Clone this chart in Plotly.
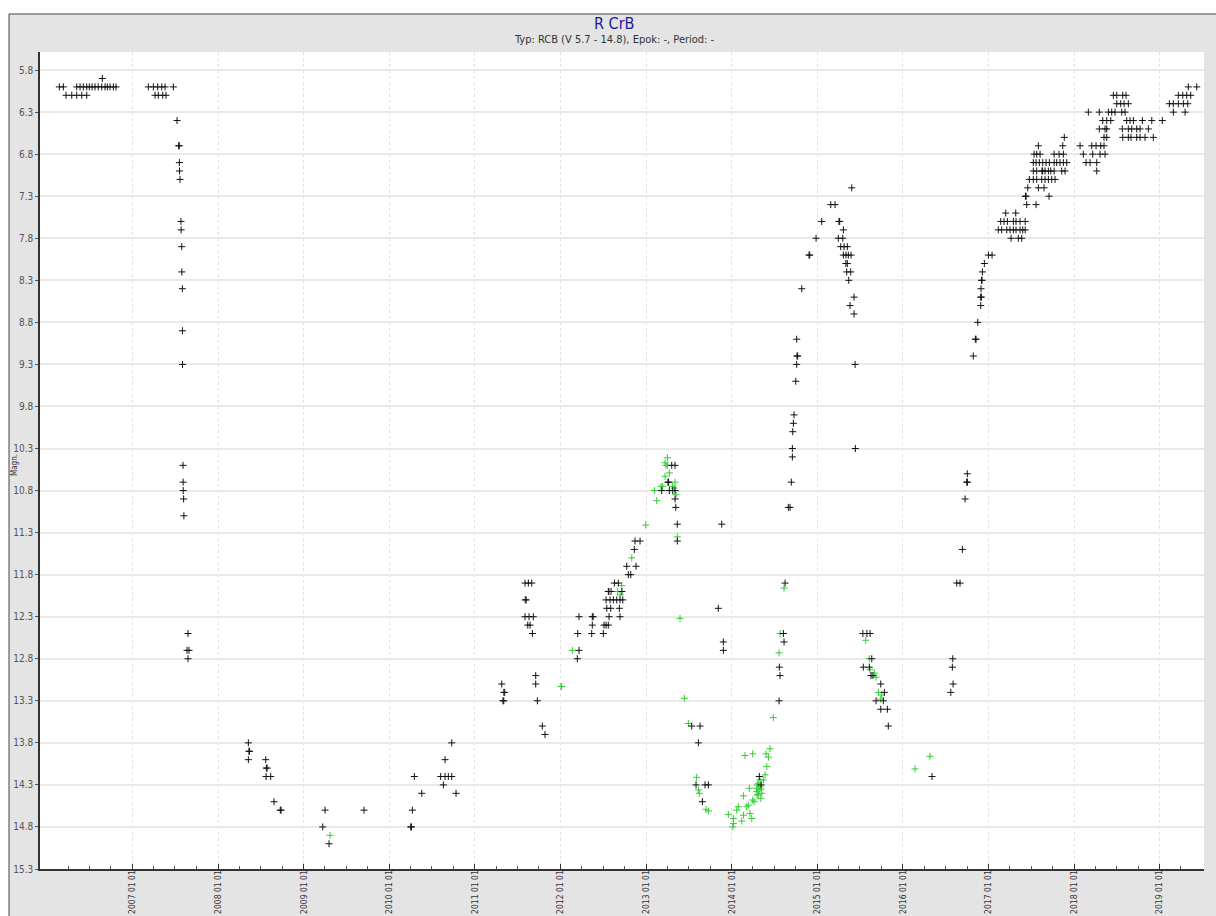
import numpy as np
import pandas as pd
import plotly.graph_objects as go

# ---------------- data (decimal year, magnitude) ----------------
black_year = [
    2006.145, 2006.192, 2006.348, 2006.387, 2006.425, 2006.465, 2006.495, 2006.527, 2006.562, 2006.600,
    2006.640, 2006.679, 2006.706, 2006.737, 2006.776, 2006.807,
    2006.223, 2006.290, 2006.348, 2006.407, 2006.465, 2006.647,
    2007.185, 2007.243, 2007.294, 2007.341, 2007.380, 2007.477,
    2007.263, 2007.301, 2007.353, 2007.391,
    2007.520, 2007.540, 2007.546, 2007.547, 2007.549, 2007.555,
    2007.566, 2007.568, 2007.575, 2007.576, 2007.582, 2007.583, 2007.584,
    2007.590, 2007.591, 2007.592, 2007.597, 2007.600,
    2007.648, 2007.637, 2007.660, 2007.648,
    2008.353, 2008.360, 2008.367, 2008.353, 2008.556, 2008.563, 2008.572, 2008.560, 2008.614, 2008.653,
    2008.726, 2008.735,
    2009.222, 2009.249, 2009.296, 2009.704,
    2010.250, 2010.258, 2010.269, 2010.292, 2010.379, 2010.600, 2010.651, 2010.689, 2010.729, 2010.631,
    2010.651, 2010.729, 2010.779,
    2011.313, 2011.338, 2011.348, 2011.327, 2011.337, 2011.710, 2011.710, 2011.729, 2011.787, 2011.819,
    2011.585, 2011.624, 2011.664, 2011.588, 2011.598, 2011.585, 2011.632, 2011.682, 2011.617, 2011.644,
    2011.671,
    2012.216, 2012.196, 2012.216, 2012.201, 2012.371, 2012.381, 2012.371, 2012.364, 2012.508, 2012.532,
    2012.558, 2012.500, 2012.567, 2012.695, 2012.540, 2012.586, 2012.687,
    2012.532, 2012.578, 2012.617, 2012.657, 2012.695, 2012.727,
    2012.558, 2012.565, 2012.590, 2012.717,
    2012.629, 2012.675, 2012.773, 2012.882, 2012.792, 2012.820,
    2012.870, 2012.929, 2012.862,
    2013.299, 2013.338, 2013.255, 2013.263, 2013.182, 2013.271, 2013.311, 2013.338, 2013.338, 2013.346,
    2013.364, 2013.364,
    2013.883, 2013.843, 2013.902, 2013.902,
    2013.533, 2013.630, 2013.610, 2013.583, 2013.688, 2013.727, 2013.657,
    2014.322, 2014.343,
    2014.553, 2014.564, 2014.556, 2014.611, 2014.603, 2014.623, 2014.661, 2014.681, 2014.696, 2014.708,
    2014.708, 2014.713, 2014.720, 2014.728, 2014.748, 2014.759, 2014.762, 2014.770, 2014.759, 2014.818,
    2014.903, 2014.911, 2014.985,
    2015.051, 2015.157, 2015.207, 2015.253, 2015.261, 2015.304, 2015.245, 2015.297, 2015.273, 2015.312,
    2015.350, 2015.304, 2015.335, 2015.362, 2015.394, 2015.333, 2015.350, 2015.343, 2015.390, 2015.367,
    2015.429, 2015.382, 2015.429, 2015.441, 2015.444, 2015.402,
    2015.532, 2015.579, 2015.616, 2015.636, 2015.537, 2015.607, 2015.627, 2015.650, 2015.741, 2015.783,
    2015.686, 2015.771, 2015.741, 2015.818, 2015.829,
    2016.340, 2016.582, 2016.577, 2016.586, 2016.559, 2016.629, 2016.667, 2016.694, 2016.726, 2016.745,
    2016.753, 2016.752, 2016.822, 2016.846, 2016.854, 2016.874, 2016.909, 2016.908, 2016.916, 2016.912,
    2016.918, 2016.924, 2016.928, 2016.951, 2016.998, 2017.041,
    2017.263, 2017.348, 2017.388,
    2017.114, 2017.154, 2017.213, 2017.251, 2017.290, 2017.321, 2017.368, 2017.400, 2017.428,
    2017.143, 2017.181, 2017.220, 2017.290, 2017.321, 2017.368, 2017.428,
    2017.201, 2017.318,
    2017.446, 2017.555,
    2017.431, 2017.439, 2017.707,
    2017.458, 2017.582, 2017.648,
    2017.477, 2017.523, 2017.563, 2017.621, 2017.660, 2017.699, 2017.738, 2017.777,
    2017.523, 2017.563, 2017.624, 2017.632, 2017.660, 2017.699, 2017.727, 2017.766, 2017.855, 2017.894,
    2017.523, 2017.555, 2017.593, 2017.633, 2017.672, 2017.710, 2017.766, 2017.797, 2017.835, 2017.874, 2017.914,
    2017.532, 2017.563, 2017.602, 2017.766, 2017.824, 2017.874,
    2017.582, 2017.867, 2017.885,
    2018.069, 2018.206, 2018.256, 2018.311, 2018.349,
    2018.107, 2018.217, 2018.303, 2018.361,
    2018.139, 2018.186, 2018.264, 2018.264,
    2018.349, 2018.381, 2018.568, 2018.633, 2018.664, 2018.731, 2018.770, 2018.828, 2018.925,
    2018.294, 2018.361, 2018.381, 2018.563, 2018.633, 2018.673, 2018.731, 2018.770, 2018.867,
    2018.334, 2018.381, 2018.428, 2018.614, 2018.653, 2018.692, 2018.797, 2018.907, 2019.030,
    2018.166, 2018.294, 2018.400, 2018.439, 2018.478, 2018.556, 2018.595,
    2018.498, 2018.544, 2018.583, 2018.633,
    2018.458, 2018.498, 2018.568, 2018.606,
    2019.334, 2019.432,
    2019.217, 2019.269, 2019.315, 2019.362,
    2019.112, 2019.159, 2019.217, 2019.276, 2019.327,
    2019.159, 2019.296,
]
black_mag = [
    6.0, 6.0, 6.0, 6.0, 6.0, 6.0, 6.0, 6.0, 6.0, 6.0,
    6.0, 6.0, 6.0, 6.0, 6.0, 6.0,
    6.1, 6.1, 6.1, 6.1, 6.1, 5.9,
    6.0, 6.0, 6.0, 6.0, 6.0, 6.0,
    6.1, 6.1, 6.1, 6.1,
    6.4, 6.7, 6.7, 6.9, 7.0, 7.1,
    7.6, 7.7, 7.9, 8.2, 8.4, 8.9, 9.3,
    10.5, 10.7, 10.8, 10.9, 11.1,
    12.5, 12.7, 12.7, 12.8,
    13.8, 13.9, 13.9, 14.0, 14.0, 14.1, 14.1, 14.2, 14.2, 14.5,
    14.6, 14.6,
    14.8, 14.6, 15.0, 14.6,
    14.8, 14.8, 14.6, 14.2, 14.4, 14.2, 14.2, 14.2, 14.2, 14.3,
    14.0, 13.8, 14.4,
    13.1, 13.2, 13.2, 13.3, 13.3, 13.0, 13.1, 13.3, 13.6, 13.7,
    11.9, 11.9, 11.9, 12.1, 12.1, 12.3, 12.3, 12.3, 12.4, 12.4,
    12.5,
    12.7, 12.8, 12.3, 12.5, 12.3, 12.3, 12.4, 12.5, 12.4, 12.4,
    12.4, 12.5, 12.3, 12.3, 12.2, 12.2, 12.2,
    12.1, 12.1, 12.1, 12.1, 12.1, 12.1,
    12.0, 12.0, 12.0, 12.0,
    11.9, 11.9, 11.7, 11.7, 11.8, 11.8,
    11.4, 11.4, 11.5,
    10.5, 10.5, 10.7, 10.7, 10.8, 10.8, 10.8, 10.8, 10.9, 11.0,
    11.2, 11.4,
    11.2, 12.2, 12.6, 12.7,
    13.6, 13.6, 13.8, 14.3, 14.3, 14.3, 14.5,
    14.2, 14.3,
    13.3, 13.0, 12.9, 12.6, 12.5, 11.9, 11.0, 11.0, 10.7, 10.3,
    10.4, 10.1, 10.0, 9.9, 9.5, 9.3, 9.2, 9.2, 9.0, 8.4,
    8.0, 8.0, 7.8,
    7.6, 7.4, 7.4, 7.6, 7.6, 7.7, 7.8, 7.8, 7.9, 7.9,
    7.9, 8.0, 8.0, 8.0, 8.0, 8.1, 8.1, 8.2, 8.2, 8.3,
    8.5, 8.6, 8.7, 9.3, 10.3, 7.2,
    12.5, 12.5, 12.5, 12.8, 12.9, 12.9, 13.0, 13.0, 13.1, 13.2,
    13.3, 13.3, 13.4, 13.4, 13.6,
    14.2, 12.8, 12.9, 13.1, 13.2, 11.9, 11.9, 11.5, 10.9, 10.7,
    10.7, 10.6, 9.2, 9.0, 9.0, 8.8, 8.6, 8.5, 8.5, 8.4,
    8.3, 8.3, 8.2, 8.1, 8.0, 8.0,
    7.8, 7.8, 7.8,
    7.7, 7.7, 7.7, 7.7, 7.7, 7.7, 7.7, 7.7, 7.7,
    7.6, 7.6, 7.6, 7.6, 7.6, 7.6, 7.6,
    7.5, 7.5,
    7.4, 7.4,
    7.3, 7.3, 7.3,
    7.2, 7.2, 7.2,
    7.1, 7.1, 7.1, 7.1, 7.1, 7.1, 7.1, 7.1,
    7.0, 7.0, 7.0, 7.0, 7.0, 7.0, 7.0, 7.0, 7.0, 7.0,
    6.9, 6.9, 6.9, 6.9, 6.9, 6.9, 6.9, 6.9, 6.9, 6.9, 6.9,
    6.8, 6.8, 6.8, 6.8, 6.8, 6.8,
    6.7, 6.7, 6.6,
    6.7, 6.7, 6.7, 6.7, 6.7,
    6.8, 6.8, 6.8, 6.8,
    6.9, 6.9, 6.9, 7.0,
    6.6, 6.6, 6.6, 6.6, 6.6, 6.6, 6.6, 6.6, 6.6,
    6.5, 6.5, 6.5, 6.5, 6.5, 6.5, 6.5, 6.5, 6.5,
    6.4, 6.4, 6.4, 6.4, 6.4, 6.4, 6.4, 6.4, 6.4,
    6.3, 6.3, 6.3, 6.3, 6.3, 6.3, 6.3,
    6.2, 6.2, 6.2, 6.2,
    6.1, 6.1, 6.1, 6.1,
    6.0, 6.0,
    6.1, 6.1, 6.1, 6.1,
    6.2, 6.2, 6.2, 6.2, 6.2,
    6.3, 6.3,
]

green_year = [
    2009.307,
    2012.006, 2012.012, 2012.138,
    2012.668, 2012.695, 2012.715, 2012.832,
    2012.995,
    2013.248, 2013.221, 2013.232, 2013.248, 2013.271, 2013.221, 2013.338, 2013.174, 2013.194, 2013.306,
    2013.326, 2013.096, 2013.349, 2013.124, 2013.364,
    2013.396, 2013.446, 2013.493, 2013.591, 2013.610, 2013.621, 2013.700, 2013.727,
    2013.960, 2014.012, 2014.019, 2014.019, 2014.058, 2014.077, 2014.117, 2014.136, 2014.136, 2014.175,
    2014.194, 2014.214, 2014.234, 2014.245, 2014.260, 2014.206, 2014.155, 2014.245, 2014.292, 2014.311,
    2014.292, 2014.311, 2014.331, 2014.331, 2014.351, 2014.339, 2014.369, 2014.389, 2014.409, 2014.401,
    2014.428, 2014.447, 2014.300, 2014.318, 2014.296, 2014.343,
    2014.486, 2014.553, 2014.564, 2014.611,
    2015.565, 2015.607, 2015.616, 2015.666, 2015.686, 2015.713, 2015.752, 2015.741,
    2016.141, 2016.316,
]
green_mag = [
    14.9,
    13.13, 13.13, 12.7,
    12.0, 12.04, 11.93, 11.6,
    11.21,
    10.41, 10.47, 10.5, 10.5, 10.59, 10.63, 10.7, 10.75, 10.75, 10.75,
    10.77, 10.8, 10.85, 10.92, 11.35,
    12.32, 13.27, 13.57, 14.21, 14.36, 14.4, 14.59, 14.61,
    14.65, 14.80, 14.76, 14.70, 14.60, 14.56, 14.73, 14.66, 14.43, 14.56,
    14.54, 14.64, 14.70, 14.48, 14.50, 14.34, 13.95, 13.93, 14.38, 14.41,
    14.34, 14.28, 14.24, 14.32, 14.40, 14.46, 14.24, 14.18, 14.08, 13.93,
    13.97, 13.87, 14.30, 14.36, 14.42, 14.35,
    13.5, 12.73, 12.5, 11.96,
    12.58, 12.8, 12.93, 12.97, 13.02, 13.2, 13.23, 13.28,
    14.11, 13.96,
]

y_tick_labels = ["5.8", "6.3", "6.8", "7.3", "7.8", "8.3", "8.8", "9.3", "9.8", "10.3",
                 "10.8", "11.3", "11.8", "12.3", "12.8", "13.3", "13.8", "14.3", "14.8", "15.3"]
x_tick_years = list(range(2007, 2020))

title_text = "R CrB"
subtitle_text = "Typ: RCB (V 5.7 - 14.8), Epok: -, Period: -"
y_title = "Magn."

# ---------------- helpers ----------------
BASE = pd.Timestamp("2007-01-01")


def yr2date(yrs):
    arr = np.atleast_1d(np.asarray(yrs, dtype=float))
    return BASE + pd.to_timedelta((arr - 2007.0) * 365.25, unit="D")


black_dates = yr2date(black_year)
green_dates = yr2date(green_year)

FONT = "Liberation Sans Narrow, DejaVu Sans Condensed, Arial Narrow, Liberation Sans, Arial, sans-serif"

fig = go.Figure()
fig.add_trace(go.Scatter(
    x=green_dates, y=green_mag, mode="markers",
    marker=dict(symbol="cross-thin", size=5, line=dict(color="#33cc33", width=1)),
    showlegend=False, hoverinfo="x+y"))
fig.add_trace(go.Scatter(
    x=black_dates, y=black_mag, mode="markers",
    marker=dict(symbol="cross-thin", size=5, line=dict(color="#111111", width=1)),
    showlegend=False, hoverinfo="x+y"))

major_ticks = [pd.Timestamp(f"{y}-01-01") for y in x_tick_years]
minor_ticks = []
for y in range(2006, 2020):
    for m in (4, 7, 10):
        d = pd.Timestamp(f"{y}-{m:02d}-01")
        if d <= pd.Timestamp("2019-04-01"):
            minor_ticks.append(d)

x_left = yr2date(2005.919)[0]
x_right = yr2date(2019.517)[0]

fig.update_xaxes(
    type="date", range=[x_left, x_right], automargin=False,
    tickvals=major_ticks, tickformat="%Y %m %d", tickangle=-90,
    ticks="inside", ticklen=5, tickcolor="#333333", tickwidth=1,
    tickfont=dict(family=FONT, size=8.5, color="#333333"),
    ticklabelstandoff=-4,
    showgrid=True, gridcolor="#e2e2e2", gridwidth=1, griddash="3px,3px",
    showline=True, linecolor="#333333", linewidth=1.5,
    minor=dict(tickvals=minor_ticks, ticks="inside", ticklen=3, tickcolor="#555555", showgrid=False),
    zeroline=False,
)

fig.update_yaxes(
    range=[15.3, 5.585], automargin=False,
    tickvals=[float(t) for t in y_tick_labels], ticktext=y_tick_labels,
    ticks="outside", ticklen=3, tickcolor="#555555",
    tickfont=dict(family=FONT, size=10, color="#555555"),
    showgrid=True, gridcolor="#e9e9e9", gridwidth=2,
    showline=True, linecolor="#333333", linewidth=1.5,
    zeroline=False,
)

W, H = 1216, 916
ML, MR, MT, MB = 40, 12, 52, 47
PW, PH = W - ML - MR, H - MT - MB


def px2x(px):
    return (px - ML) / PW


def py2y(py):
    return (H - MB - py) / PH


shapes = [
    # white strips outside the gray frame
    dict(type="rect", xref="paper", yref="paper", x0=px2x(-5), x1=px2x(W + 5), y0=py2y(14), y1=py2y(-5),
         fillcolor="white", line=dict(width=0), layer="above"),
    dict(type="rect", xref="paper", yref="paper", x0=px2x(-5), x1=px2x(9), y0=py2y(H + 5), y1=py2y(14),
         fillcolor="white", line=dict(width=0), layer="above"),
    # frame border lines
    dict(type="line", xref="paper", yref="paper", x0=px2x(9), x1=px2x(W + 5), y0=py2y(14), y1=py2y(14),
         line=dict(color="#444444", width=1), layer="above"),
    dict(type="line", xref="paper", yref="paper", x0=px2x(9), x1=px2x(9), y0=py2y(14), y1=py2y(H + 5),
         line=dict(color="#444444", width=1), layer="above"),
]

annotations = [
    dict(text=title_text, xref="paper", yref="paper", x=px2x(614), y=py2y(23),
         showarrow=False, xanchor="center", yanchor="middle",
         font=dict(family=FONT, size=16, color="#1a1a9a")),
    dict(text=subtitle_text, xref="paper", yref="paper", x=px2x(614), y=py2y(40),
         showarrow=False, xanchor="center", yanchor="middle",
         font=dict(family=FONT, size=11, color="#333333")),
    dict(text=y_title, xref="paper", yref="paper", x=px2x(15), y=py2y(465),
         showarrow=False, xanchor="center", yanchor="middle", textangle=-90,
         font=dict(family=FONT, size=8, color="#333333")),
]

fig.update_layout(
    width=W, height=H, autosize=False,
    margin=dict(l=ML, r=MR, t=MT, b=MB, pad=0, autoexpand=False),
    paper_bgcolor="#e4e4e4", plot_bgcolor="white",
    shapes=shapes, annotations=annotations,
    showlegend=False,
    font=dict(family=FONT),
)

fig.write_html(
    "out.html",
    config={"displayModeBar": False, "responsive": False},
    post_script="document.body.style.margin='0px';document.body.style.padding='0px';"
                "document.body.style.overflow='hidden';",
)
